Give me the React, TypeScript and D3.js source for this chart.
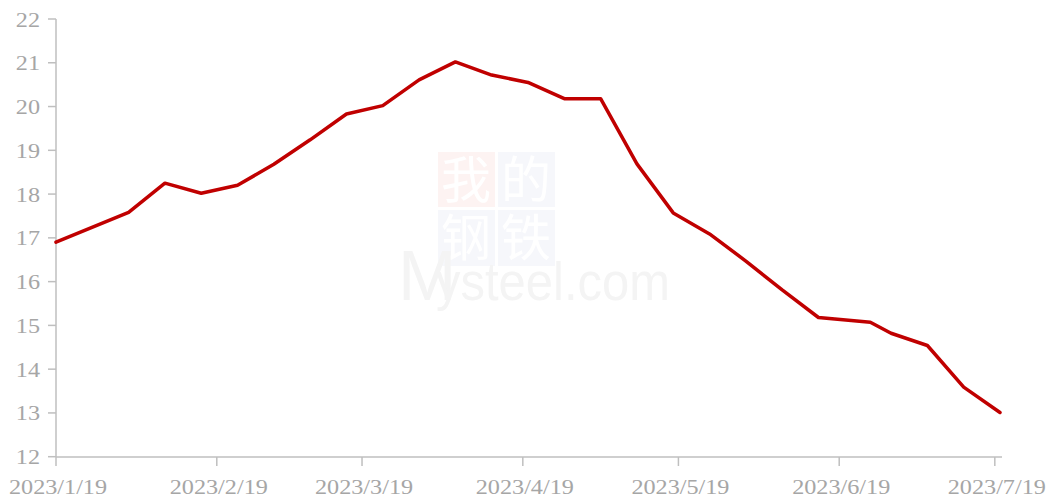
import React from "react";
import * as d3 from "d3";

const dates: string[] = [
  "2023-01-19", "2023-02-02", "2023-02-09", "2023-02-16", "2023-02-23",
  "2023-03-02", "2023-03-09", "2023-03-16", "2023-03-23", "2023-03-30",
  "2023-04-06", "2023-04-13", "2023-04-20", "2023-04-27", "2023-05-04",
  "2023-05-11", "2023-05-18", "2023-05-25", "2023-06-01", "2023-06-08",
  "2023-06-15", "2023-06-25", "2023-06-29", "2023-07-06", "2023-07-13",
  "2023-07-20",
];
const values: number[] = [
  16.9, 17.58, 18.25, 18.02, 18.2,
  18.68, 19.24, 19.83, 20.02, 20.61,
  21.02, 20.72, 20.55, 20.18, 20.18,
  18.69, 17.57, 17.09, 16.47, 15.81,
  15.18, 15.07, 14.82, 14.54, 13.59,
  13.01,
];
const xTickDates: string[] = [
  "2023-01-19", "2023-02-19", "2023-03-19", "2023-04-19",
  "2023-05-19", "2023-06-19", "2023-07-19",
];
const yTicks: number[] = [12, 13, 14, 15, 16, 17, 18, 19, 20, 21, 22];

const parse = (s: string) => {
  const [y, m, d] = s.split("-").map(Number);
  return new Date(y, m - 1, d);
};
const fmt = (d: Date) => `${d.getFullYear()}/${d.getMonth() + 1}/${d.getDate()}`;

export default function App() {
  const W = 1049, H = 499;
  const x = d3.scaleTime().domain([parse("2023-01-19"), parse("2023-07-20")]).range([56, 1000]);
  const y = d3.scaleLinear().domain([12, 22]).range([456.7, 19]);
  const pts = dates.map((d, i) => [x(parse(d)), y(values[i])] as [number, number]);
  const line = d3.line()(pts) || "";
  const axisColor = "#bfbfbf";
  const textColor = "#a6a6a6";
  const fontFamily = "'Liberation Serif', 'Times New Roman', serif";
  const sx = 1.1;
  const cjk = "'Noto Sans CJK SC', sans-serif";
  return (
    <svg width={W} height={H} style={{ position: "absolute", left: 0, top: 0, background: "#fff" }}>
      <rect x={0} y={0} width={W} height={H} fill="#fff" />
      {/* watermark */}
      <g>
        <rect x={438} y={152} width={57} height={55} fill="#fdf3f2" />
        <rect x={498} y={152} width={57} height={55} fill="#f6f7fb" />
        <rect x={438} y={210} width={57} height={56} fill="#f6f7fb" />
        <rect x={498} y={210} width={57} height={56} fill="#f6f7fb" />
        <text x={466} y={198} fontSize={50} textAnchor="middle" fill="#ffffff" fontFamily={cjk}>我</text>
        <text x={526} y={198} fontSize={50} textAnchor="middle" fill="#ffffff" fontFamily={cjk}>的</text>
        <text x={466} y={256} fontSize={50} textAnchor="middle" fill="#ffffff" fontFamily={cjk}>钢</text>
        <text x={526} y={256} fontSize={50} textAnchor="middle" fill="#ffffff" fontFamily={cjk}>铁</text>
        <text x={398} y={300} fontSize={70} fill="#f4f4f4" fontFamily="Arial, 'Liberation Sans', sans-serif">M</text>
        <text x={436} y={300} fontSize={54} fill="#f4f4f4" fontFamily="Arial, 'Liberation Sans', sans-serif" textLength={234} lengthAdjust="spacingAndGlyphs">ysteel.com</text>
      </g>
      {/* y axis */}
      <line x1={56} x2={56} y1={19} y2={457} stroke={axisColor} strokeWidth={1.5} />
      {yTicks.map((t) => (
        <g key={t}>
          <line x1={48} x2={56} y1={y(t)} y2={y(t)} stroke={axisColor} strokeWidth={1.5} />
          <text transform={`translate(40,${y(t) + 7.5}) scale(${sx},1)`} textAnchor="end" fontSize={22} fill={textColor} fontFamily={fontFamily}>{t}</text>
        </g>
      ))}
      {/* x axis */}
      <line x1={56} x2={1002} y1={457} y2={457} stroke={axisColor} strokeWidth={1.5} />
      {xTickDates.map((s) => {
        const d = parse(s);
        const xp = x(d);
        return (
          <g key={s}>
            <line x1={xp} x2={xp} y1={457} y2={466} stroke={axisColor} strokeWidth={1.5} />
            <text transform={`translate(${xp + 2},494) scale(${sx},1)`} textAnchor="middle" fontSize={22} fill={textColor} fontFamily={fontFamily}>{fmt(d)}</text>
          </g>
        );
      })}
      <path d={line} fill="none" stroke="#c00000" strokeWidth={3.5} strokeLinejoin="round" strokeLinecap="round" />
    </svg>
  );
}
